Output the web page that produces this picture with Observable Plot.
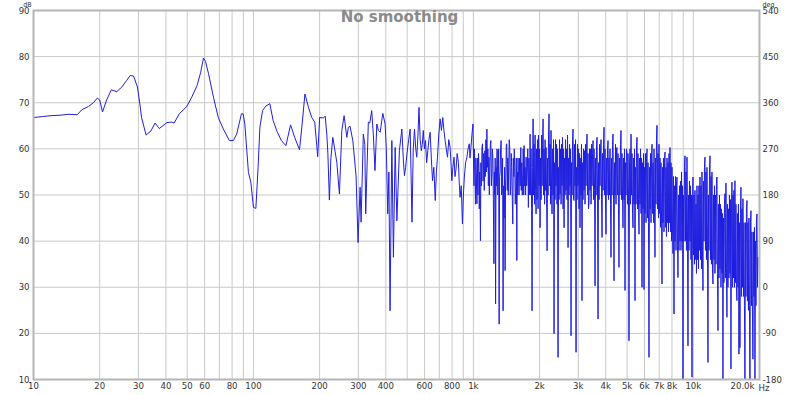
<!DOCTYPE html>
<html><head><meta charset="utf-8">
<script src="https://cdn.jsdelivr.net/npm/d3@7"></script>
<script src="https://cdn.jsdelivr.net/npm/@observablehq/plot@0.6"></script>
<style>body{margin:0;background:#fff;}</style>
</head><body><div id="chart"></div>
<script>
// Frequency response, [Hz, dB]
const lowBand = [[10,66.8],[11,67.0],[12,67.2],[13.2,67.3],[14.5,67.5],[15.8,67.4],[16.6,68.5],[17.8,69.2],[18.7,70.0],[19.5,71.0],
[20,70.6],[20.6,68.0],[21.5,70.6],[22.6,72.8],[23.9,72.4],[25.2,73.4],[26.5,74.8],[27.5,75.9],[28.5,75.8],[29.7,73.4],
[30.5,69.5],[31,66.8],[32.5,63.0],[34.2,63.9],[35.7,65.6],[37.3,64.4],[40.4,65.7],[42.6,65.8],[43.6,65.6],[46,67.6],
[49.8,69.2],[52.4,71.2],[55.4,73.7],[57.5,76.5],[59.3,79.7],[60.5,79.0],[62.5,76.3],[65.8,71.2],[69.2,66.8],[73,64.3],
[77.7,61.8],[81,61.8],[83.9,63.2],[88.2,67.6],[89.8,67.6],[91.4,65.4],[94.9,54.9],[97.3,52.8],[100,47.3],[102.6,47.1],
[105,56],[107,64.7],[110,68.3],[114,69.3],[118.7,69.8],[123,66.1],[128,63.8],[134,61.8],[140.5,60.7],[147.5,65.2],
[154,62.5],[162,59.8],[166,64.7],[171.5,71.9],[178,69],[184,66.8],[190,65.8],[196,58.3]];

const midBand = [[200,66.8],[208,66.7],[212,67.1],[215.6,63.2],[218,59],[221.5,48.9],[225,58],[229.6,62.5],[235,59.5],[239.4,57.1],
[246,50.2],[252.3,64.0],[258.4,67.2],[265.8,62.5],[270.3,64.7],[275,64.9],[283,61.8],[288,58],[293,53.9],[299,39.7],
[305.5,51.7],[308.7,44.1],[316,63.2],[321,61],[324,45.9],[333,65.8],[338,65.6],[345,68.3],[351,63],[357,55.3],
[364,65.4],[370,64],[377,63.6],[387.5,67.7],[397,65.4],[402,60],[408,45.9],[413,55],[418,24.9],[426,61.8],
[433,36.5],[441,60.3],[449,44.4],[461,59.6],[473,64.3],[480,58],[486,54.2],[492,56],[500,59.3],[508,62],
[516,64.3],[526,44.1],[533,60],[540,64.3],[547,60],[553,58.2],[560,63],[566,69.0],[573,62],[580,59.6],
[586,61],[592,64.0],[599,60],[606,61.8],[613,57],[621,59.6],[628,62],[636,63.6],[644,58],[652,53.1],
[661,56],[671,48.8],[679,55],[687,58.2],[696,63],[706,66.5],[716,64],[726,66.8],[735,64],[744,61.8],
[753,60],[763,58.2],[773,62],[784,60.3],[791,57],[798,53.1],[807,56],[817,58.2],[825,54],[834,55.6],
[844,59],[855,57.1],[862,53],[870,49.5],[881,52],[892,43.7],[901,50],[910,53.9],[922,57],[935,58.2],
[946,60],[958,61.1],[966,58],[975,60.3],[985,63],[996,65.4]];

const kiloBand = [[1006,52],[1011,60],[1017,55.3],[1022,48],[1027,58],[1033,53],[1038,48.1],[1044,58],[1049,50],[1055,59],
[1060,56.7],[1064,47],[1068,55],[1073,50],[1077,40.1],[1082,57],[1088,52],[1094,60],[1100,61.1],[1107,53],
[1114,59],[1121,51],[1128,59.6],[1134,54],[1140,62],[1146,55],[1152,64.3],[1158,56],[1164,60],[1170,52],
[1176,58.2],[1182,50],[1188,56],[1195,61],[1201,61.8],[1207,52],[1214,54.6],[1220,60],[1227,58],[1233,49],
[1240,35.1],[1246,55],[1252,50],[1257,58],[1262,26.4],[1268,56],[1274,52],[1280,60],[1285,59.6],[1291,50],
[1297,55],[1303,60],[1310,22.0],[1316,54],[1323,55],[1330,60],[1337,61.8],[1344,50],[1351,52],[1358,58],
[1365,24.9],[1372,52],[1380,45],[1387,56],[1394,33.6],[1400,52],[1406,55],[1412,61],[1419,61.1],[1426,51],
[1434,58],[1441,50],[1449,56.7],[1456,62],[1464,60],[1472,50],[1480,52.4],[1487,59],[1495,56],[1503,49],
[1511,43.7],[1519,58],[1527,54],[1535,60],[1543,56.0],[1551,48],[1560,52],[1568,58],[1576,35.8],[1583,55],
[1590,50],[1596,58],[1603,55.3],[1613,50],[1623,58],[1633,52],[1643,60.3],[1651,51],[1660,57],[1669,50],
[1678,54.6],[1684,60],[1690,58],[1695,50],[1701,60.7],[1710,52],[1719,56],[1728,50],[1737,58.2],[1747,52],
[1758,55],[1768,60],[1779,47.3],[1787,58],[1795,55],[1803,50]];

const highBand = [[1811,63.2],[1820,50],[1830,60],[1840,47],[1849,24.9],[1859,56],[1869,66.5],[1878,50],[1888,61],[1898,48],
[1908,63],[1918,51],[1928,45.9],[1938,60],[1948,49],[1958,62],[1969,47],[1979,63],[1990,52],[2000,60],
[2011,42.9],[2021,58],[2032,49],[2043,63],[2054,52],[2064,61],[2075,66.5],[2086,50],[2097,60],[2108,48],
[2119,62],[2130,51],[2141,60.3],[2152,50],[2164,37.9],[2175,58],[2186,50],[2197,63],[2209,67.6],[2220,52],
[2232,61],[2243,48],[2255,64],[2267,51],[2279,45.9],[2291,60],[2303,50],[2315,62],[2327,19.9],[2340,57],
[2352,49],[2364,62],[2376,52],[2388,61],[2401,48],[2414,60],[2427,14.8],[2440,56],[2452,49],[2465,62],
[2479,50.2],[2492,60],[2505,48],[2518,61],[2531,52],[2544,62.5],[2558,47],[2571,60],[2585,42.9],[2598,58],
[2612,50],[2625,62],[2639,51],[2653,60],[2667,49],[2681,63],[2695,38.6],[2709,58],[2723,50],[2737,61],
[2752,52],[2766,60],[2781,19.5],[2795,57],[2810,50],[2825,62],[2840,64.3],[2855,49],[2870,48.8],[2885,61],
[2900,52],[2915,62],[2930,15.9],[2945,56],[2961,49],[2976,61],[2992,52],[3007,60],[3023,47],[3039,59],
[3055,42.9],[3071,58],[3087,50],[3103,61],[3119,27.1],[3135,57],[3152,49],[3168,60],[3185,51],[3202,59.6],
[3219,48],[3236,61],[3253,52],[3270,60],[3287,63.2],[3304,50],[3321,59],[3338,47],[3356,48.1],[3374,60],
[3393,51],[3411,60],[3429,48],[3447,61],[3465,52],[3483,59],[3501,61.8],[3519,49],[3538,60],[3556,51],
[3575,30.3],[3594,58],[3613,50],[3632,61],[3651,62.5],[3670,50],[3689,23.1],[3708,57],[3728,49],[3747,61],
[3767,52],[3787,60],[3807,62],[3827,49],[3847,40.8],[3867,59],[3887,51],[3907,61],[3928,64.7],[3948,50],
[3969,60],[3990,48],[4011,41.5],[4032,58],[4053,50],[4074,60],[4096,61.8],[4117,49],[4138,58],[4160,50],
[4182,60],[4204,48],[4226,36.5],[4248,58],[4270,50],[4292,61],[4315,63.2],[4338,49],[4361,31.4],[4383,57],
[4406,50],[4429,61],[4453,48],[4476,60],[4499,60.3],[4523,50],[4547,59],[4570,47],[4594,34.3],[4618,58],
[4643,50],[4667,61],[4692,64],[4716,49],[4741,59],[4766,50],[4791,42.9],[4816,58],[4841,49],[4866,60],
[4892,29.3],[4917,57],[4943,50],[4969,60],[4995,58.9],[5021,48],[5048,59],[5074,50],[5101,18.4],[5128,57]];

const topBand = [[5156,60],[5183,48],[5210,63.2],[5237,50],[5265,59],[5292,46],[5320,42.9],[5348,58],[5376,48],[5404,60],
[5432,27.1],[5461,56],[5490,48],[5518,60],[5547,62.5],[5576,47],[5606,59],[5635,49],[5664,41.5],[5694,58],
[5725,48],[5755,60],[5785,46],[5815,58],[5846,30],[5876,57],[5907,47],[5938,59],[5969,29.5],[6000,56],
[6032,46],[6063,59],[6095,44],[6127,58],[6160,60],[6192,45],[6224,57],[6256,44],[6289,14.8],[6322,56],
[6356,47],[6389,59],[6423,44],[6456,58],[6490,61],[6524,46],[6558,57],[6592,44],[6627,60],[6662,47],
[6697,36.5],[6732,58],[6767,48],[6802,62],[6838,65.1],[6874,47],[6910,59],[6946,45],[6983,61],[7020,46],
[7057,58],[7094,43],[7131,57],[7168,45],[7206,30.7],[7243,56],[7281,44],[7319,58],[7358,42],[7396,57],
[7435,59.3],[7474,43],[7514,56],[7553,41],[7593,58],[7632,44],[7672,57],[7712,42],[7753,59],[7794,44],
[7836,60.3],[7877,42],[7918,57],[7959,40],[8001,56],[8043,43],[8085,37.3],[8128,54],[8171,24.2],[8213,52],
[8256,40],[8300,54],[8343,38],[8387,52],[8431,53.9],[8475,39],[8519,32.1],[8564,50],[8609,38],[8654,52],
[8700,40],[8745,53],[8791,38],[8837,55],[8884,40],[8930,52],[8977,8],[9024,50],[9071,40],[9118,56],
[9166,58.5],[9214,40],[9263,55],[9311,38],[9360,58.2],[9410,42],[9459,17.3],[9508,50],[9558,38],[9609,53],
[9660,40],[9710,52],[9761,36],[9812,50],[9864,10.5],[9915,48],[9967,53.9],[10019,37],[10072,50],[10125,35],
[10178,51],[10231,36],[10285,48],[10339,33],[10393,52],[10447,36],[10502,50],[10557,34],[10612,52],[10668,38],
[10725,53.9],[10781,36],[10838,52],[10894,34],[10951,55],[11008,38],[11066,29.3],[11124,53],[11183,40],[11241,56],
[11300,58.2],[11359,38],[11419,55],[11479,36],[11539,56],[11599,40],[11660,13.7],[11721,50],[11782,38],[11846,55],
[11910,58.5],[11972,36],[12035,54],[12098,35],[12161,55],[12225,34],[12289,30.7],[12353,50],[12418,36],[12483,52],
[12548,33],[12614,50],[12680,35],[12747,53],[12814,53.9],[12881,33],[12949,20.6],[13017,48],[13085,32],[13152,50],
[13220,34],[13289,48],[13359,30],[13429,47],[13499,33],[13570,46],[13641,8],[13712,45],[13784,31],[13856,48],
[13928,50.3],[14001,32],[14075,52.6],[14149,34],[14223,23.5],[14297,48],[14372,30],[14447,47],[14523,32],[14601,50],
[14680,33],[14757,49],[14834,12.3],[14912,46],[14990,52.8],[15068,30],[15147,50],[15226,32],[15306,51],[15386,30],
[15467,53.1],[15548,31],[15629,48],[15711,30],[15793,27.1],[15876,46],[15959,30],[16043,48],[16127,15.5],[16213,44],
[16300,16.9],[16385,46],[16471,51.7],[16557,28],[16644,47],[16731,30],[16819,49.2],[16907,28],[16996,44],[17085,26],
[17174,8],[17264,44],[17354,28],[17445,46],[17537,48.8],[17629,27],[17721,44],[17814,25],[17907,45],[18003,26],
[18100,8],[18195,44],[18290,46.6],[18386,26],[18482,42],[18579,24],[18676,14.4],[18774,42],[18872,28],[18971,43],
[19070,8],[19170,40],[19271,26],[19372,44],[19473,45.9],[19575,30],[19678,36.5]];

const xTickValues = [10,20,30,40,50,60,80,100,200,300,400,600,800,1000,2000,3000,4000,5000,6000,7000,8000,10000];
const xLastTick = 20000;
const xGridValues = [10,20,30,40,50,60,70,80,90,100,200,300,400,500,600,700,800,900,1000,2000,3000,4000,5000,6000,7000,8000,9000,10000,20000];
const yTickValues = [10,20,30,40,50,60,70,80,90];
const titleText = "No smoothing";

const data = [...lowBand, ...midBand, ...kiloBand, ...highBand, ...topBand].map(([f, db]) => ({f, db}));
const fmtHz = d => d === 20000 ? "20.0k" : d >= 1000 ? (d / 1000) + "k" : String(d);
const fmtDeg = d => String((d - 10) * 9 - 180);
const font = "'DejaVu Sans Condensed', 'DejaVu Sans', sans-serif";

const chart = Plot.plot({
  width: 800, height: 395,
  marginLeft: 33, marginRight: 41, marginTop: 10, marginBottom: 16,
  style: {fontFamily: font, fontSize: "9.5px", color: "#333", background: "#fff"},
  x: {type: "log", domain: [10, 20000], axis: null},
  y: {domain: [10, 90], axis: null},
  marks: [
    Plot.gridX(xGridValues, {stroke: "#c9c9c9", strokeOpacity: 1}),
    Plot.gridY(yTickValues, {stroke: "#c9c9c9", strokeOpacity: 1}),
    Plot.text(xTickValues, {x: d => d, text: fmtHz, frameAnchor: "bottom", lineAnchor: "top", dy: 3, fill: "#333"}),
    Plot.text([xLastTick], {x: d => d, text: fmtHz, frameAnchor: "bottom", lineAnchor: "top", textAnchor: "end", dx: -5, dy: 3, fill: "#333"}),
    Plot.text(["Hz"], {frameAnchor: "bottom-right", lineAnchor: "top", textAnchor: "start", dx: -1, dy: 5, fill: "#333"}),
    Plot.axisY(yTickValues, {anchor: "left", tickSize: 0, tickPadding: 4, label: null}),
    Plot.axisY(yTickValues, {anchor: "right", tickSize: 0, tickPadding: 3, tickFormat: fmtDeg, label: null}),
    Plot.line(data, {x: "f", y: "db", stroke: "#1f1fe0", strokeWidth: 1, clip: true}),
    Plot.frame({stroke: "#b5b5b5", strokeWidth: 2}),
    Plot.text([titleText], {frameAnchor: "top", dx: 3, dy: 1, fontSize: 15, fontWeight: "bold", fill: "#8a8a8a", fontFamily: "'DejaVu Sans', sans-serif"}),
    Plot.text(["dB"], {frameAnchor: "top-left", textAnchor: "end", dx: -2, dy: -8, fontSize: 7, fill: "#333"}),
    Plot.text(["deg"], {frameAnchor: "top-right", textAnchor: "start", dx: 3, dy: -8, fontSize: 7, fill: "#333"})
  ]
});
document.getElementById("chart").append(chart);
</script>
</body></html>
